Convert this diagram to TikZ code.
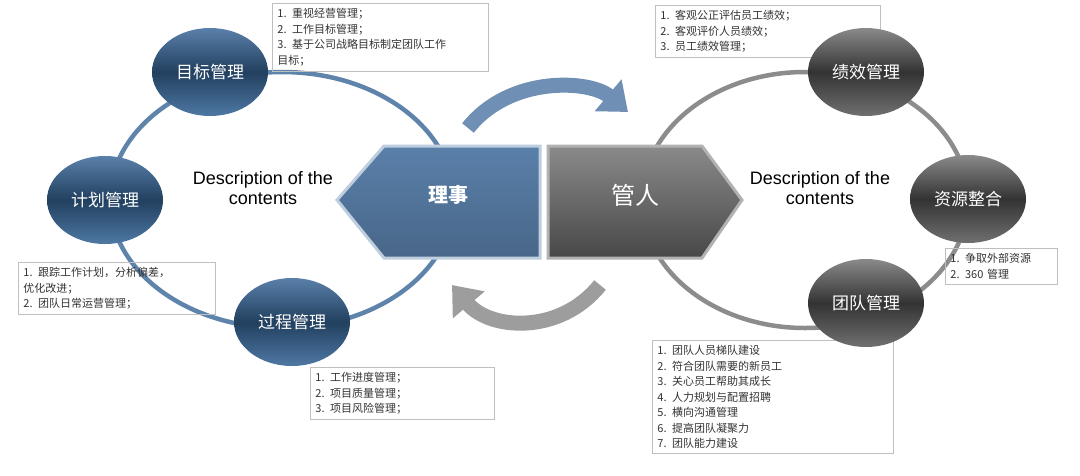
\documentclass[tikz,border=0pt]{standalone}
\usepackage{fontspec}
\setmainfont{Liberation Sans}
\newfontfamily\cjk{Noto Sans CJK SC}
\usetikzlibrary{arrows.meta,shapes.geometric}
\definecolor{bluering}{HTML}{5F84AC}
\definecolor{grayring}{HTML}{8C8C8C}
\definecolor{bluetop}{HTML}{5A80AA}
\definecolor{bluemid}{HTML}{22405F}
\definecolor{bluebot}{HTML}{4E78A4}
\definecolor{graytop}{HTML}{8A8A8A}
\definecolor{graymid}{HTML}{333333}
\definecolor{graybot}{HTML}{707070}
\tikzset{
  bluebub/.style={ellipse,minimum width=116pt,minimum height=88pt,top color=bluetop,bottom color=bluebot,middle color=bluemid,text=white,font=\cjk\fontsize{17}{17}\selectfont},
  graybub/.style={ellipse,minimum width=116pt,minimum height=88pt,top color=graytop,bottom color=graybot,middle color=graymid,text=white,font=\cjk\fontsize{17}{17}\selectfont},
  infobox/.style={draw=black!25,line width=0.8pt,anchor=north west,align=left,inner sep=5pt,font=\cjk\fontsize{11}{15.5}\selectfont,text=black!80},
  desc/.style={font=\fontsize{18}{20}\selectfont,align=center},
}
\begin{document}
\begin{tikzpicture}[x=1pt,y=-1pt]
\useasboundingbox[fill=white] (0,0) rectangle (1080,475);
% rings
\draw[bluering,line width=4.5pt] (282,200) ellipse [x radius=172,y radius=128];
\draw[grayring,line width=4.5pt] (805,200) ellipse [x radius=163,y radius=128];
% cycle arrows
\draw[bluering!90,line width=15pt,-{Triangle[length=26pt,width=40pt]}] (468,128) .. controls (510,75) and (590,80) .. (628,112);
\draw[grayring!85,line width=15pt,-{Triangle[length=26pt,width=40pt]}] (600,285) .. controls (560,335) and (490,330) .. (452,285);
% centre shapes
\filldraw[draw=bluering!40,line width=3pt,top color=bluetop,bottom color=bluetop!80!black] (337,200) -- (384,146) -- (540,146) -- (540,258) -- (384,258) -- cycle;
\node[text=white,font=\cjk\fontsize{20}{20}\selectfont\bfseries] (lishi) at (448,195) {理事};
\filldraw[draw=black!30,line width=3pt,top color=graytop,bottom color=graymid!90] (548,146) -- (702,146) -- (742,200) -- (702,258) -- (548,258) -- cycle;
\node[text=white,font=\cjk\fontsize{24}{24}\selectfont] (guanren) at (635,195) {管人};
% descriptions
\node[desc] (d1) at (263,188) {Description of the\\contents};
\node[desc] (d2) at (820,188) {Description of the\\contents};
% info boxes
\node[infobox,text width=206pt] (b1) at (272,3) {1. 重视经营管理；\\2. 工作目标管理；\\3. 基于公司战略目标制定团队工作\\目标；};
\node[infobox,text width=187pt] (b2) at (18,262) {1. 跟踪工作计划，分析偏差，\\优化改进；\\2. 团队日常运营管理；};
\node[infobox,text width=174pt] (b3) at (310,367) {1. 工作进度管理；\\2. 项目质量管理；\\3. 项目风险管理；};
\node[infobox,text width=215pt] (b4) at (655,5) {1. 客观公正评估员工绩效；\\2. 客观评价人员绩效；\\3. 员工绩效管理；};
\node[infobox,text width=102pt] (b5) at (945,248) {1. 争取外部资源\\2. 360 管理};
\node[infobox,text width=231pt] (b6) at (652,340) {1. 团队人员梯队建设\\2. 符合团队需要的新员工\\3. 关心员工帮助其成长\\4. 人力规划与配置招聘\\5. 横向沟通管理\\6. 提高团队凝聚力\\7. 团队能力建设};
% bubbles
\node[bluebub] (mubiao) at (210,72) {目标管理};
\node[bluebub] (jihua) at (105,200) {计划管理};
\node[bluebub] (guocheng) at (292,322) {过程管理};
\node[graybub] (jixiao) at (866,72) {绩效管理};
\node[graybub] (ziyuan) at (968,199) {资源整合};
\node[graybub] (tuandui) at (866,303) {团队管理};
\end{tikzpicture}
\end{document}
